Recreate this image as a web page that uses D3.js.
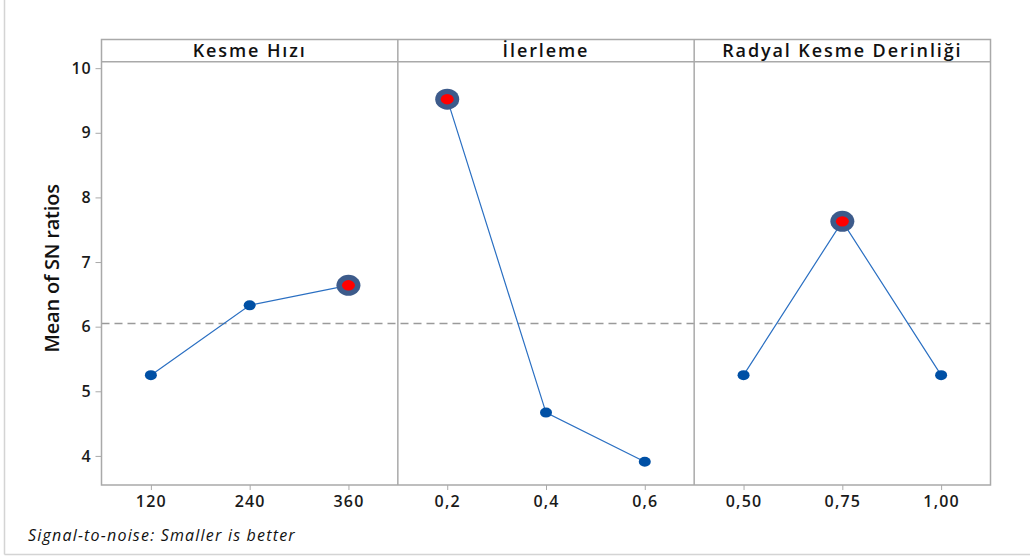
<!DOCTYPE html>
<html>
<head>
<meta charset="utf-8">
<script src="https://cdn.jsdelivr.net/npm/d3@7/dist/d3.min.js"></script>
<style>
  html, body { margin: 0; padding: 0; background: #fff; }
  svg { display: block; }
  text { font-family: "Open Sans", "Noto Sans", sans-serif; }
</style>
</head>
<body>
<svg id="chart" width="1030" height="557"></svg>
<script>
// ---- data ----
const factors = ["Kesme Hızı", "İlerleme", "Radyal Kesme Derinliği"];
const kesmeLevels = ["120", "240", "360"];
const ilerlemeLevels = ["0,2", "0,4", "0,6"];
const radyalLevels = ["0,50", "0,75", "1,00"];
const kesmeValues = [5.25, 6.33, 6.64];
const ilerlemeValues = [9.52, 4.67, 3.91];
const radyalValues = [5.25, 7.63, 5.25];
const grandMean = 6.05;
const yTicks = [4, 5, 6, 7, 8, 9, 10];
const yTitle = "Mean of SN ratios";
const footnote = "Signal-to-noise: Smaller is better";

const panels = [
  { name: factors[0], levels: kesmeLevels, values: kesmeValues },
  { name: factors[1], levels: ilerlemeLevels, values: ilerlemeValues },
  { name: factors[2], levels: radyalLevels, values: radyalValues }
];

// ---- layout ----
const svg = d3.select("#chart");
const W = 1030, H = 557;
const left = 101.5, right = 990.5, stripTop = 39.5, plotTop = 61.7, bottom = 485;
const frameColor = "#a9a9a9";

svg.append("rect").attr("width", W).attr("height", H).attr("fill", "#fff");
// outer frame (left + bottom)
svg.append("line").attr("x1", 4.5).attr("x2", 4.5).attr("y1", 0).attr("y2", 554.5)
  .attr("stroke", "#d4d4d4").attr("stroke-width", 1.5);
svg.append("line").attr("x1", 4.5).attr("x2", W).attr("y1", 554.5).attr("y2", 554.5)
  .attr("stroke", "#d4d4d4").attr("stroke-width", 1.5);

const band = d3.scaleBand().domain(factors).range([left, right]).padding(0);
const y = d3.scaleLinear().domain([3.55, 10.1]).range([bottom, plotTop]);

// grand mean dashed line
svg.append("line")
  .attr("x1", left).attr("x2", right)
  .attr("y1", y(grandMean)).attr("y2", y(grandMean))
  .attr("stroke", "#9a9a9a").attr("stroke-width", 1.5)
  .attr("stroke-dasharray", "8,5");

// y axis
const yAxis = svg.append("g").attr("transform", `translate(${left},0)`)
  .call(d3.axisLeft(y).tickValues(yTicks).tickSize(6).tickPadding(4).tickFormat(d3.format("d")));
yAxis.select(".domain").remove();
yAxis.selectAll("line").attr("stroke", frameColor);
yAxis.selectAll("text").attr("font-size", 16).attr("font-weight", 600).attr("fill", "#1a1a1a")
  .attr("letter-spacing", 0.8)
  .attr("font-family", "'Open Sans', sans-serif");

// y title
svg.append("text")
  .attr("transform", `translate(59,${(plotTop + bottom) / 2 - 5}) rotate(-90)`)
  .attr("text-anchor", "middle")
  .attr("font-size", 20).attr("font-weight", 600).attr("letter-spacing", -0.2)
  .attr("fill", "#111")
  .text(yTitle);

panels.forEach(p => {
  const x0 = band(p.name), bw = band.bandwidth();
  const x = d3.scalePoint().domain(p.levels).range([x0, x0 + bw]).padding(0.5);
  const g = svg.append("g");

  // strip title
  g.append("text")
    .attr("x", x0 + bw / 2).attr("y", 57)
    .attr("text-anchor", "middle")
    .attr("font-size", 18).attr("font-weight", 600).attr("fill", "#111")
    .attr("letter-spacing", 1.9)
    .text(p.name);

  // x axis
  const xa = g.append("g").attr("transform", `translate(0,${bottom})`)
    .call(d3.axisBottom(x).tickSize(5).tickPadding(6));
  xa.select(".domain").remove();
  xa.selectAll("line").attr("stroke", frameColor);
  xa.selectAll("text").attr("font-size", 16).attr("font-weight", 600).attr("fill", "#1a1a1a")
    .attr("letter-spacing", 1.2)
    .attr("font-family", "'Open Sans', sans-serif");

  // line
  const pts = p.levels.map((l, i) => [x(l), y(p.values[i])]);
  g.append("path")
    .attr("d", d3.line()(pts))
    .attr("fill", "none").attr("stroke", "#2a6fc2").attr("stroke-width", 1.2);

  const best = d3.maxIndex(p.values);
  pts.forEach((pt, i) => {
    if (i === best) {
      g.append("ellipse").attr("cx", pt[0]).attr("cy", pt[1]).attr("rx", 12).attr("ry", 10.5)
        .attr("fill", "#3d5b8b");
      g.append("ellipse").attr("cx", pt[0]).attr("cy", pt[1]).attr("rx", 6.5).attr("ry", 5.2)
        .attr("fill", "#ff0000");
    } else {
      g.append("ellipse").attr("cx", pt[0]).attr("cy", pt[1]).attr("rx", 6).attr("ry", 5)
        .attr("fill", "#0050a5");
    }
  });
});

// frame, strip, dividers
svg.append("rect").attr("x", left).attr("y", stripTop)
  .attr("width", right - left).attr("height", bottom - stripTop)
  .attr("fill", "none").attr("stroke", frameColor).attr("stroke-width", 1.5);
svg.append("line").attr("x1", left).attr("x2", right).attr("y1", plotTop).attr("y2", plotTop)
  .attr("stroke", frameColor).attr("stroke-width", 1.5);
factors.slice(1).forEach(f => {
  svg.append("line").attr("x1", band(f)).attr("x2", band(f))
    .attr("y1", stripTop).attr("y2", bottom)
    .attr("stroke", frameColor).attr("stroke-width", 1.5);
});

// footnote
svg.append("text")
  .attr("x", 28).attr("y", 541)
  .attr("font-size", 16).attr("font-style", "italic").attr("fill", "#111")
  .attr("letter-spacing", 1.2)
  .text(footnote);
</script>
</body>
</html>
